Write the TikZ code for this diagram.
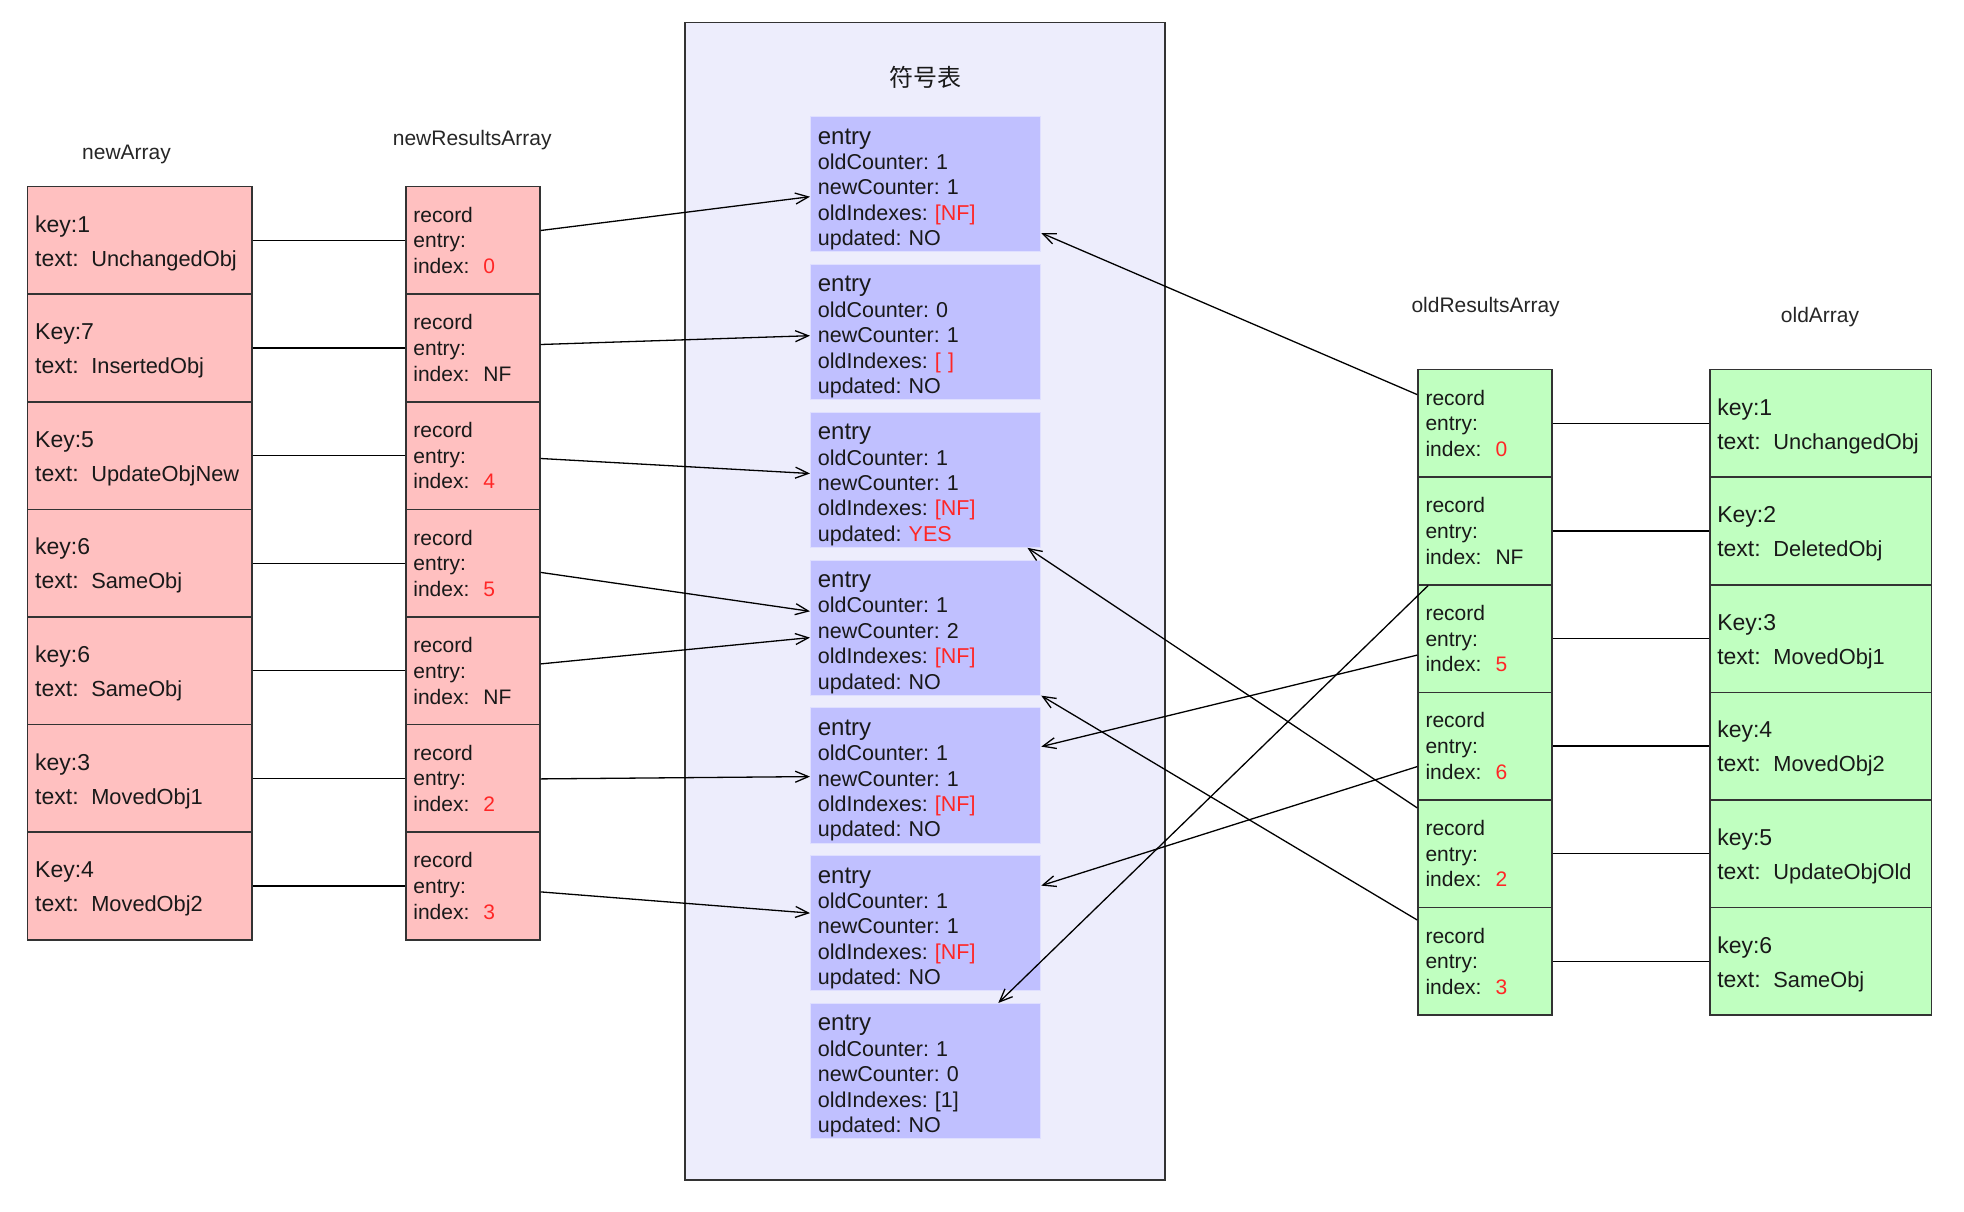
\documentclass[tikz,border=0pt]{standalone}
\usepackage{fontspec}
\setmainfont{Liberation Sans}
\newfontfamily\cjkfont{Noto Sans CJK SC}
\usepackage{xcolor}
\usetikzlibrary{matrix}
\usetikzlibrary{arrows.meta}
\frenchspacing
\definecolor{newpink}{RGB}{255,192,192}
\definecolor{oldgreen}{RGB}{192,255,192}
\definecolor{entryblue}{RGB}{192,192,255}
\definecolor{tablebg}{RGB}{237,237,252}
\definecolor{hotred}{RGB}{255,38,38}
\newcommand{\redtxt}[1]{\textcolor{hotred}{#1}}
\newcommand{\keyval}[2]{\rule{0pt}{22pt}#1\\text:\hspace{5pt} {\fontsize{21.8}{34}\selectfont #2}}
\newcommand{\entryhead}{{\fontsize{24}{25.4}\selectfont\rule{0pt}{26pt}entry}}
\tikzset{
  cell/.style={draw=black!80, line width=1.6pt, minimum height=107.6pt,
    inner sep=7.5pt, align=left, text=black!90},
  keycell/.style={cell, text width=209pt, font=\fontsize{23}{34}\selectfont},
  reccell/.style={cell, text width=119pt, font=\fontsize{21}{25.7}\selectfont},
  entrybox/.style={fill=entryblue, draw=entryblue!50!white, line width=0.8pt,
    minimum height=135.3pt, text width=215.5pt, inner xsep=7.5pt, inner ysep=0pt,
    align=left, text=black!90, font=\fontsize{21.5}{25.4}\selectfont},
  heading/.style={text=black!85, font=\fontsize{21}{25}\selectfont},
  link/.style={line width=1.3pt},
  >={Straight Barb[length=13pt,width=11pt]}
}

\begin{document}
\begin{tikzpicture}[x=1pt, y=-1pt]
  \useasboundingbox (0,0) rectangle (1964,1212);

  \node[draw=black!80, line width=1.6pt, fill=tablebg, minimum width=479.7pt,
    minimum height=1157.5pt] (table) at (925,601.2) {};
  \node[font=\cjkfont\fontsize{24}{28}\selectfont, text=black!90] (title) at (925.7,77.7) {符号表};

  \node[heading] (nalabel) at (126.5,154.1) {newArray};
  \node[heading] (nrlabel) at (472.2,140.3) {newResultsArray};
  \node[heading] (orlabel) at (1485.6,306.9) {oldResultsArray};
  \node[heading] (oalabel) at (1820,316.9) {oldArray};

  \matrix (na) [matrix of nodes, row sep=-1.6pt, nodes={keycell, fill=newpink}]
    at (139.7,563.2) {
    {\keyval{key:1}{UnchangedObj}} \\
    {\keyval{Key:7}{InsertedObj}} \\
    {\keyval{Key:5}{UpdateObjNew}} \\
    {\keyval{key:6}{SameObj}} \\
    {\keyval{key:6}{SameObj}} \\
    {\keyval{key:3}{MovedObj1}} \\
    {\keyval{Key:4}{MovedObj2}} \\
  };

  \matrix (nr) [matrix of nodes, row sep=-1.6pt, nodes={reccell, fill=newpink}]
    at (472.9,563.2) {
    {record\\entry:\\index:\ \ \redtxt{0}} \\
    {record\\entry:\\index:\ \ NF} \\
    {record\\entry:\\index:\ \ \redtxt{4}} \\
    {record\\entry:\\index:\ \ \redtxt{5}} \\
    {record\\entry:\\index:\ \ NF} \\
    {record\\entry:\\index:\ \ \redtxt{2}} \\
    {record\\entry:\\index:\ \ \redtxt{3}} \\
  };

  \matrix (st) [matrix of nodes, row sep=11.7pt, nodes={entrybox}]
    at (925.6,627.6) {
    {\entryhead\\oldCounter: 1\\newCounter: 1\\oldIndexes: \redtxt{[NF]}\\updated: NO} \\
    {\entryhead\\oldCounter: 0\\newCounter: 1\\oldIndexes: \redtxt{[ ]}\\updated: NO} \\
    {\entryhead\\oldCounter: 1\\newCounter: 1\\oldIndexes: \redtxt{[NF]}\\updated: \redtxt{YES}} \\
    {\entryhead\\oldCounter: 1\\newCounter: 2\\oldIndexes: \redtxt{[NF]}\\updated: NO} \\
    {\entryhead\\oldCounter: 1\\newCounter: 1\\oldIndexes: \redtxt{[NF]}\\updated: NO} \\
    {\entryhead\\oldCounter: 1\\newCounter: 1\\oldIndexes: \redtxt{[NF]}\\updated: NO} \\
    {\entryhead\\oldCounter: 1\\newCounter: 0\\oldIndexes: [1]\\updated: NO} \\
  };

  \matrix (or) [matrix of nodes, row sep=-1.6pt, nodes={reccell, fill=oldgreen}]
    at (1485,692.3) {
    {record\\entry:\\index:\ \ \redtxt{0}} \\
    {record\\entry:\\index:\ \ NF} \\
    {record\\entry:\\index:\ \ \redtxt{5}} \\
    {record\\entry:\\index:\ \ \redtxt{6}} \\
    {record\\entry:\\index:\ \ \redtxt{2}} \\
    {record\\entry:\\index:\ \ \redtxt{3}} \\
  };

  \matrix (oa) [matrix of nodes, row sep=-1.6pt, nodes={keycell, text width=206.7pt, fill=oldgreen}]
    at (1820.6,692.3) {
    {\keyval{key:1}{UnchangedObj}} \\
    {\keyval{Key:2}{DeletedObj}} \\
    {\keyval{Key:3}{MovedObj1}} \\
    {\keyval{key:4}{MovedObj2}} \\
    {\keyval{key:5}{UpdateObjOld}} \\
    {\keyval{key:6}{SameObj}} \\
  };

  \path[link] (na-1-1) edge (nr-1-1);
  \path[link] (na-2-1) edge (nr-2-1);
  \path[link] (na-3-1) edge (nr-3-1);
  \path[link] (na-4-1) edge (nr-4-1);
  \path[link] (na-5-1) edge (nr-5-1);
  \path[link] (na-6-1) edge (nr-6-1);
  \path[link] (na-7-1) edge (nr-7-1);

  \path[link] (or-1-1) edge (oa-1-1);
  \path[link] (or-2-1) edge (oa-2-1);
  \path[link] (or-3-1) edge (oa-3-1);
  \path[link] (or-4-1) edge (oa-4-1);
  \path[link] (or-5-1) edge (oa-5-1);
  \path[link] (or-6-1) edge (oa-6-1);

  \path[->, link] ([yshift=9.9pt]nr-1-1.east) edge ([yshift=-12.5pt]st-1-1.west);
  \path[->, link] ([yshift=3.5pt]nr-2-1.east) edge ([yshift=-3.7pt]st-2-1.west);
  \path[->, link] ([yshift=-2.9pt]nr-3-1.east) edge ([yshift=6.3pt]st-3-1.west);
  \path[->, link] ([yshift=-9.2pt]nr-4-1.east) edge ([yshift=16.3pt]st-4-1.west);
  \path[->, link] ([yshift=6.9pt]nr-5-1.east) edge ([yshift=-10pt]st-4-1.west);
  \path[->, link] ([yshift=-0.5pt]nr-6-1.east) edge ([yshift=-1.2pt]st-5-1.west);
  \path[->, link] ([yshift=-5.9pt]nr-7-1.east) edge ([yshift=10.1pt]st-6-1.west);

  \path[->, link] ([yshift=28.7pt]or-1-1.west) edge ([yshift=-48.8pt]st-1-1.east);
  \path[->, link] ([xshift=11pt]or-2-1.south west) edge ([xshift=72.7pt]st-7-1.north);
  \path[->, link] ([yshift=-16.6pt]or-3-1.west) edge ([yshift=28.8pt]st-5-1.east);
  \path[->, link] ([yshift=-20.5pt]or-4-1.west) edge ([yshift=37.6pt]st-6-1.east);
  \path[->, link] ([yshift=45.8pt]or-5-1.west) edge ([xshift=-13.8pt]st-3-1.south east);
  \path[->, link] ([yshift=41.3pt]or-6-1.west) edge (st-4-1.south east);
\end{tikzpicture}
\end{document}
